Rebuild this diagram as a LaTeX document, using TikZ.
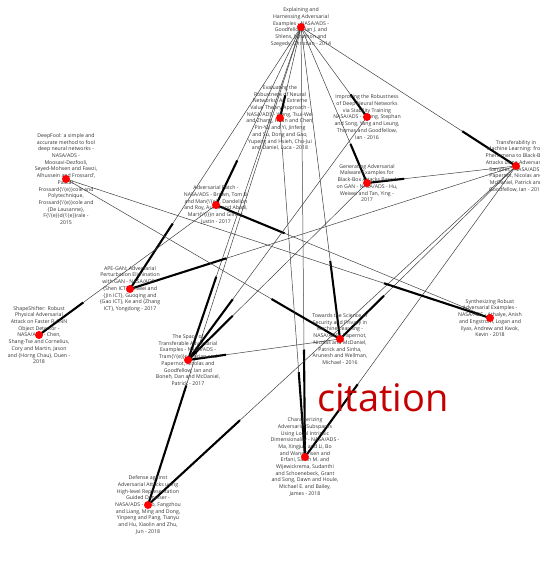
\documentclass[tikz,border=0pt]{standalone}
\usepackage{fontspec}
\setmainfont{Open Sans}
\usetikzlibrary{calc}
\begin{document}
\begin{tikzpicture}[x=1pt,y=-1pt,
  paper/.style={anchor=center, align=center, inner sep=0pt, text=black!80,
    font=\fontsize{5.2}{6.7}\selectfont},
  dot/.style={circle, fill=red, inner sep=0pt, minimum size=8pt},
  link/.style={draw=black!75, line width=0.5pt},
  linkhead/.style={draw=black, line width=2.1pt}]
\useasboundingbox (0,0) rectangle (539,571);

% paper positions
\coordinate (pgf) at (301,27);
\coordinate (pwg) at (280,118);
\coordinate (pzh) at (367,117);
\coordinate (pdf) at (66,179);
\coordinate (ppa) at (216,205);
\coordinate (phu) at (367,183);
\coordinate (ptr) at (516,166);
\coordinate (pap) at (130,289);
\coordinate (pss) at (39,335);
\coordinate (psp) at (188,360);
\coordinate (pts) at (340,339);
\coordinate (psy) at (490,318);
\coordinate (pde) at (148,505);
\coordinate (pch) at (305,457);

% citations: cited -> citing; heavy stub on the last quarter, at the citing paper
\foreach \a/\b in {gf/wg, gf/zh, gf/pa, gf/ap, gf/hu, gf/sp, gf/ts, gf/ch, gf/de, gf/tr,
                   tr/ap, tr/hu, tr/ts, tr/ch, tr/de,
                   pa/ss, sy/pa, df/ts, df/sy,
                   hu/sp, zh/sp, ts/sp, wg/ch}{
  \draw[link] (p\a) -- (p\b);
  \draw[linkhead] (p\b) -- ($(p\b)!0.25!(p\a)$);
}

% paper labels, centred on their markers
\node[paper] (tgf) at (pgf) {Explaining and\\Harnessing Adversarial\\Examples - NASA/ADS -\\Goodfellow, Ian J. and\\Shlens, Jonathon and\\Szegedy, Christian - 2014};
\node[paper] (twg) at (pwg) {Evaluating the\\Robustness of Neural\\Networks: An Extreme\\Value Theory Approach -\\NASA/ADS - Weng, Tsui-Wei\\and Zhang, Huan and Chen,\\Pin-Yu and Yi, Jinfeng\\and Su, Dong and Gao,\\Yupeng and Hsieh, Cho-Jui\\and Daniel, Luca - 2018};
\node[paper] (tzh) at (pzh) {Improving the Robustness\\of Deep Neural Networks\\via Stability Training\\NASA/ADS - Zheng, Stephan\\and Song, Yang and Leung,\\Thomas and Goodfellow,\\Ian - 2016};
\node[paper] (tdf) at (pdf) {DeepFool: a simple and\\accurate method to fool\\deep neural networks -\\NASA/ADS -\\Moosavi-Dezfooli,\\Seyed-Mohsen and Fawzi,\\Alhussein and Frossard',\\Pascal.\\Frossard\{\textbackslash'\{e\}\}cole and\\Polytechnique,\\Frossard\{\textbackslash'\{e\}\}cole and\\\{De Lausanne\},\\F\{\textbackslash'\{e\}\}d\{\textbackslash'\{e\}\}rale -\\2015};
\node[paper] (tpa) at (ppa) {Adversarial Patch -\\NASA/ADS - Brown, Tom B.\\and Man\{\textbackslash'\{e\}\}, Dandelion\\and Roy, Aurko and Abadi,\\Mart\{\textbackslash'\{i\}\}n and Gilmer,\\Justin - 2017};
\node[paper] (thu) at (phu) {Generating Adversarial\\Malware Examples for\\Black-Box Attacks Based\\on GAN - NASA/ADS - Hu,\\Weiwei and Tan, Ying -\\2017};
\node[paper] (ttr) at (ptr) {Transferability in\\Machine Learning: from\\Phenomena to Black-Box\\Attacks using Adversarial\\Samples - NASA/ADS -\\Papernot, Nicolas and\\McDaniel, Patrick and\\Goodfellow, Ian - 2016};
\node[paper] (tap) at (pap) {APE-GAN: Adversarial\\Perturbation Elimination\\with GAN - NASA/ADS -\\\{Shen ICT\}, Shiwei and\\\{Jin ICT\}, Guoqing and\\\{Gao ICT\}, Ke and \{Zhang\\ICT\}, Yongdong - 2017};
\node[paper] (tss) at (pss) {ShapeShifter: Robust\\Physical Adversarial\\Attack on Faster R-CNN\\Object Detector -\\NASA/ADS - Chen,\\Shang-Tse and Cornelius,\\Cory and Martin, Jason\\and \{Horng Chau\}, Duen -\\2018};
\node[paper] (tsp) at (psp) {The Space of\\Transferable Adversarial\\Examples - NASA/ADS -\\Tram\{\textbackslash`\{e\}\}r, Florian and\\Papernot, Nicolas and\\Goodfellow, Ian and\\Boneh, Dan and McDaniel,\\Patrick - 2017};
\node[paper] (tts) at (pts) {Towards the Science of\\Security and Privacy in\\Machine Learning -\\NASA/ADS - Papernot,\\Nicolas and McDaniel,\\Patrick and Sinha,\\Arunesh and Wellman,\\Michael - 2016};
\node[paper] (tsy) at (psy) {Synthesizing Robust\\Adversarial Examples -\\NASA/ADS - Athalye, Anish\\and Engstrom, Logan and\\Ilyas, Andrew and Kwok,\\Kevin - 2018};
\node[paper] (tde) at (pde) {Defense against\\Adversarial Attacks using\\High-level Representation\\Guided Denoiser -\\NASA/ADS - Liao, Fangzhou\\and Liang, Ming and Dong,\\Yinpeng and Pang, Tianyu\\and Hu, Xiaolin and Zhu,\\Jun - 2018};
\node[paper] (tch) at (pch) {Characterizing\\Adversarial Subspaces\\Using Local Intrinsic\\Dimensionality - NASA/ADS -\\Ma, Xingjun and Li, Bo\\and Wang, Yisen and\\Erfani, Sarah M. and\\Wijewickrema, Sudanthi\\and Schoenebeck, Grant\\and Song, Dawn and Houle,\\Michael E. and Bailey,\\James - 2018};

% paper markers
\foreach \p in {gf,wg,zh,df,pa,hu,tr,ap,ss,sp,ts,sy,de,ch}
  \node[dot] (d\p) at (p\p) {};

% legend word
\node[text={rgb,255:red,196;green,0;blue,0}, font=\fontsize{38}{40}\selectfont, inner sep=0pt] (lbl) at (383,398) {citation};
\end{tikzpicture}
\end{document}
